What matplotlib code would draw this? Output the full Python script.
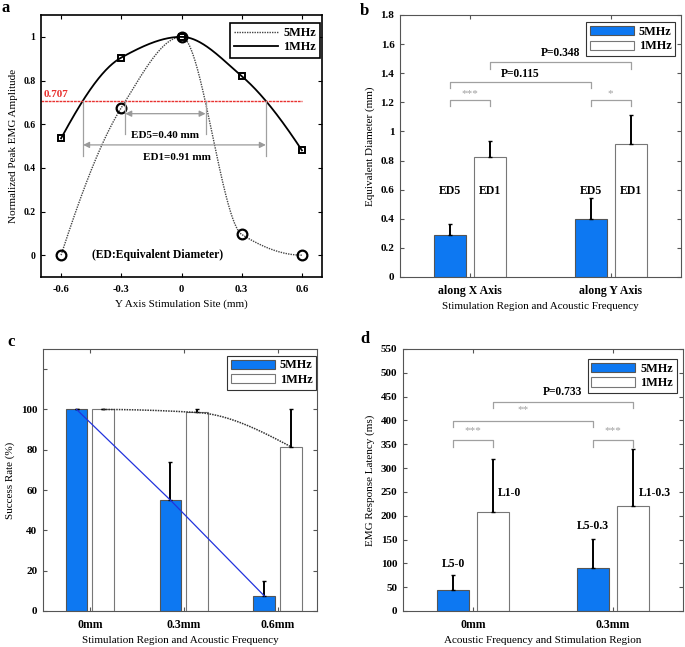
import numpy as np
import matplotlib
matplotlib.use('Agg')
import matplotlib.pyplot as plt
from matplotlib.patches import Patch
from matplotlib.lines import Line2D

plt.rcParams['font.family'] = ['Liberation Serif', 'DejaVu Serif']
plt.rcParams['font.size'] = 8

# ---- data ----
# panel a
sites = [-0.6, -0.3, 0.0, 0.3, 0.6]
amp_5mhz = [0.0, 0.675, 1.0, 0.095, 0.0]
amp_1mhz = [0.535, 0.905, 1.0, 0.82, 0.48]
half_level = 0.707
ed5_span = [-0.28, 0.12]
ed1_span = [-0.49, 0.42]

# panel b
axes_b = ['along X Axis', 'along Y Axis']
ed_5mhz = [0.29, 0.40]
ed_5mhz_err = [0.076, 0.14]
ed_1mhz = [0.823, 0.913]
ed_1mhz_err = [0.112, 0.203]

# panel c
regions_c = ['0mm', '0.3mm', '0.6mm']
rate_5mhz = [100, 55, 7.5]
rate_5mhz_err = [0, 19, 7.5]
rate_1mhz = [100, 98.5, 81.5]
rate_1mhz_err = [0, 1.5, 18.5]

# panel d
regions_d = ['0mm', '0.3mm']
lat_5mhz = [45, 90]
lat_5mhz_err = [31, 62]
lat_1mhz = [208, 220]
lat_1mhz_err = [111, 121]

BLUE = '#0d78f2'
GRAY = '#a0a0a0'
BW = 0.23
OFF = 0.142
LEGFONT = {'weight': 'bold', 'size': 8.8}


def pchip(x, y, xs):
    # shape preserving cubic, used only to draw the smooth connecting line
    x = np.asarray(x, float); y = np.asarray(y, float)
    h = np.diff(x); dl = np.diff(y) / h
    n = len(x); d = np.zeros(n)
    for k in range(1, n - 1):
        if dl[k - 1] * dl[k] > 0:
            w1 = 2 * h[k] + h[k - 1]; w2 = h[k] + 2 * h[k - 1]
            d[k] = (w1 + w2) / (w1 / dl[k - 1] + w2 / dl[k])

    def endd(h0, h1, d0, d1):
        v = ((2 * h0 + h1) * d0 - h0 * d1) / (h0 + h1)
        if np.sign(v) != np.sign(d0):
            v = 0.0
        elif np.sign(d0) != np.sign(d1) and abs(v) > abs(3 * d0):
            v = 3 * d0
        return v
    if n > 2:
        d[0] = endd(h[0], h[1], dl[0], dl[1])
        d[-1] = endd(h[-1], h[-2], dl[-1], dl[-2])
    out = np.empty_like(xs)
    for i, xv in enumerate(xs):
        k = min(max(np.searchsorted(x, xv) - 1, 0), n - 2)
        t = (xv - x[k]) / h[k]
        out[i] = ((2*t**3 - 3*t**2 + 1) * y[k] + (t**3 - 2*t**2 + t) * h[k] * d[k]
                  + (-2*t**3 + 3*t**2) * y[k+1] + (t**3 - t**2) * h[k] * d[k+1])
    return out


def style_axes(ax, color='#555555', lw=0.8, xsize=8.5, ysize=8):
    for s in ax.spines.values():
        s.set_color(color)
        s.set_linewidth(lw)
    ax.tick_params(direction='in', top=True, right=True, length=3, width=0.8,
                   color=color)
    ax.tick_params(axis='x', labelsize=xsize, pad=5.5)
    ax.tick_params(axis='y', labelsize=ysize, pad=4)
    for lab in ax.get_xticklabels() + ax.get_yticklabels():
        lab.set_fontweight('bold')


def bracket(ax, x1, x2, y, drop, text, ty, tcolor=GRAY, bold=False, size=8):
    ax.plot([x1, x1, x2, x2], [y - drop, y, y, y - drop], color=GRAY, lw=0.9)
    ax.text((x1 + x2) / 2, ty, text, ha='center', va='center', color=tcolor,
            fontweight='bold' if bold else 'normal', fontsize=size)


def bar_legend(ax, anchor):
    h = [Patch(facecolor=BLUE, edgecolor='#555555', lw=0.8),
         Patch(facecolor='white', edgecolor='#777777', lw=0.8)]
    leg = ax.legend(h, ['5MHz', '1MHz'], loc='upper right', bbox_to_anchor=anchor,
                    fancybox=False, framealpha=1, edgecolor='#333333',
                    handlelength=3.6, handleheight=0.8, handletextpad=0.4,
                    borderpad=0.3, labelspacing=0.2, borderaxespad=0, prop=LEGFONT)
    leg.get_frame().set_linewidth(0.8)


fig = plt.figure(figsize=(6.85, 6.47), dpi=100)
W, H = 685.0, 647.0


def add_ax(l, t, r, b):
    return fig.add_axes([l / W, 1 - b / H, (r - l) / W, (b - t) / H])


# ---------------- a ----------------
ax = add_ax(41, 15, 322, 277)
xs = np.linspace(-0.6, 0.6, 400)
ax.plot(xs, pchip(sites, amp_5mhz, xs), color='#444444', ls=(0, (1, 0.8)), lw=1.0)
ax.plot(xs, pchip(sites, amp_1mhz, xs), color='black', lw=1.3)
ax.plot(sites, amp_5mhz, 'o', ms=7, mfc='none', mec='black', mew=1.6)
ax.plot(sites, amp_1mhz, 's', ms=5, mfc='none', mec='black', mew=1.4)
ax.plot([-0.7, 0.6], [half_level, half_level], color='#e8312f', lw=1.0, ls=(0, (2, 0.6)))
ax.text(-0.685, 0.715, '0.707', color='#e8312f', fontweight='bold', fontsize=8,
        ha='left', va='bottom')
for xv in ed5_span:
    ax.plot([xv, xv], [0.555, half_level], color=GRAY, lw=0.9)
for xv in ed1_span:
    ax.plot([xv, xv], [0.455, half_level], color=GRAY, lw=0.9)
arrow = dict(arrowstyle='<|-|>', color='#9a9a9a', lw=0.9, shrinkA=0, shrinkB=0,
             mutation_scale=9)
ax.annotate('', xy=(ed5_span[0], 0.648), xytext=(ed5_span[1], 0.648), arrowprops=arrow)
ax.annotate('', xy=(ed1_span[0], 0.505), xytext=(ed1_span[1], 0.505), arrowprops=arrow)
ax.text(sum(ed5_span) / 2, 0.548, 'ED5=0.40 mm', ha='center', va='center',
        fontweight='bold', fontsize=8)
ax.text(sum(ed1_span) / 2 + 0.01, 0.448, 'ED1=0.91 mm', ha='center', va='center',
        fontweight='bold', fontsize=8)
ax.text(-0.12, 0.0, '(ED:Equivalent Diameter)', ha='center', va='center',
        fontweight='bold', fontsize=8.4)
ax.set_xlim(-0.7, 0.7)
ax.set_ylim(-0.1, 1.1)
ax.set_xticks(sites)
ax.set_xticklabels(['-0.6', '-0.3', '0', '0.3', '0.6'])
ax.set_yticks([0, 0.2, 0.4, 0.6, 0.8, 1.0])
ax.set_yticklabels(['0', '0.2', '0.4', '0.6', '0.8', '1'])
ax.set_xlabel('Y Axis Stimulation Site (mm)', fontsize=8, labelpad=4)
ax.set_ylabel('Normalized Peak EMG Amplitude', fontsize=8, labelpad=4)
style_axes(ax, 'black', 1.2, xsize=7.6, ysize=7)
lh = [Line2D([], [], color='#444444', ls=(0, (1, 0.8)), lw=1.0),
      Line2D([], [], color='black', lw=1.3)]
leg = ax.legend(lh, ['5MHz', '1MHz'], loc='upper right', bbox_to_anchor=(0.993, 0.971),
                fancybox=False, framealpha=1, edgecolor='black', handlelength=3.6,
                handletextpad=0.4, borderpad=0.35, labelspacing=0.2, borderaxespad=0,
                prop=LEGFONT)
leg.get_frame().set_linewidth(1.2)
fig.text(2 / W, 1 - 8 / H, 'a', fontweight='bold', fontsize=12, va='center')

# ---------------- b ----------------
ax = add_ax(400, 15, 681, 277)
xb = np.arange(1, len(axes_b) + 1)
ax.bar(xb - OFF, ed_5mhz, BW, color=BLUE, edgecolor='#555555', lw=0.8, zorder=2)
ax.bar(xb + OFF, ed_1mhz, BW, color='white', edgecolor='#777777', lw=0.8, zorder=2)
ax.errorbar(xb - OFF, ed_5mhz, yerr=[np.zeros(2), ed_5mhz_err], fmt='none',
            ecolor='black', elinewidth=1.4, capsize=1.5, capthick=1, zorder=3)
ax.errorbar(xb + OFF, ed_1mhz, yerr=[np.zeros(2), ed_1mhz_err], fmt='none',
            ecolor='black', elinewidth=1.4, capsize=1.5, capthick=1, zorder=3)
for i in range(2):
    ax.text(xb[i] - OFF, 0.59, 'ED5', ha='center', va='center', fontweight='bold', fontsize=8.5)
    ax.text(xb[i] + OFF, 0.59, 'ED1', ha='center', va='center', fontweight='bold', fontsize=8.5)
bracket(ax, 1 - OFF, 1 + OFF, 1.217, 0.045, '***', 1.26)
bracket(ax, 2 - OFF, 2 + OFF, 1.217, 0.045, '*', 1.26)
bracket(ax, 1 - OFF, 2 - OFF, 1.343, 0.045, 'P=0.115', 1.395, 'black', True, 8.3)
bracket(ax, 1 + OFF, 2 + OFF, 1.475, 0.045, 'P=0.348', 1.54, 'black', True, 8.3)
ax.set_xlim(0.5, 2.5)
ax.set_ylim(0, 1.8)
ax.set_xticks(xb)
ax.set_xticklabels(axes_b)
yt = np.round(np.arange(0, 1.81, 0.2), 1)
ax.set_yticks(yt)
ax.set_yticklabels(['%g' % v for v in yt])
ax.set_xlabel('Stimulation Region and Acoustic Frequency', fontsize=8, labelpad=4)
ax.set_ylabel('Equivalent Diameter (mm)', fontsize=8, labelpad=4)
style_axes(ax)
bar_legend(ax, (0.979, 0.972))
fig.text(360 / W, 1 - 11 / H, 'b', fontweight='bold', fontsize=12, va='center')

# ---------------- c ----------------
ax = add_ax(43, 349, 317, 611)
xc = np.arange(1, len(regions_c) + 1)
ax.bar(xc - OFF, rate_5mhz, BW, color=BLUE, edgecolor='#555555', lw=0.8, zorder=2)
ax.bar(xc + OFF, rate_1mhz, BW, color='white', edgecolor='#777777', lw=0.8, zorder=2)
ax.errorbar(xc - OFF, rate_5mhz, yerr=[np.zeros(3), rate_5mhz_err], fmt='none',
            ecolor='black', elinewidth=1.4, capsize=1.5, capthick=1, zorder=3)
ax.errorbar(xc + OFF, rate_1mhz, yerr=[np.zeros(3), rate_1mhz_err], fmt='none',
            ecolor='black', elinewidth=1.4, capsize=1.5, capthick=1, zorder=3)
ax.plot(xc - OFF, rate_5mhz, color='#2233dd', lw=0.9, zorder=4)
xs = np.linspace(xc[0] + OFF, xc[-1] + OFF, 300)
ax.plot(xs, pchip(xc + OFF, rate_1mhz, xs), color='#333333', ls=(0, (1, 0.7)), lw=1.1, zorder=4)
ax.set_xlim(0.5, 3.42)
ax.set_ylim(0, 130)
ax.set_xticks(xc)
ax.set_xticklabels(regions_c)
ax.set_yticks(np.arange(0, 121, 20))
ax.set_yticklabels(['0', '20', '40', '60', '80', '100', ''])
ax.set_xlabel('Stimulation Region and Acoustic Frequency', fontsize=8, labelpad=4)
ax.set_ylabel('Success Rate (%)', fontsize=8, labelpad=4)
style_axes(ax)
bar_legend(ax, (0.997, 0.974))
fig.text(7 / W, 1 - 342 / H, 'c', fontweight='bold', fontsize=12, va='center')

# ---------------- d ----------------
ax = add_ax(403, 349, 683, 611)
xd = np.arange(1, len(regions_d) + 1)
ax.bar(xd - OFF, lat_5mhz, BW, color=BLUE, edgecolor='#555555', lw=0.8, zorder=2)
ax.bar(xd + OFF, lat_1mhz, BW, color='white', edgecolor='#777777', lw=0.8, zorder=2)
ax.errorbar(xd - OFF, lat_5mhz, yerr=[np.zeros(2), lat_5mhz_err], fmt='none',
            ecolor='black', elinewidth=1.4, capsize=1.5, capthick=1, zorder=3)
ax.errorbar(xd + OFF, lat_1mhz, yerr=[np.zeros(2), lat_1mhz_err], fmt='none',
            ecolor='black', elinewidth=1.4, capsize=1.5, capthick=1, zorder=3)
ax.text(1 - OFF, 98, 'L5-0', ha='center', va='center', fontweight='bold', fontsize=8.5)
ax.text(1 + OFF + 0.12, 247, 'L1-0', ha='center', va='center', fontweight='bold', fontsize=8.5)
ax.text(2 - OFF, 179, 'L5-0.3', ha='center', va='center', fontweight='bold', fontsize=8.5)
ax.text(2 + OFF + 0.155, 247, 'L1-0.3', ha='center', va='center', fontweight='bold', fontsize=8.5)
bracket(ax, 1 - OFF, 1 + OFF, 359, 14, '***', 378)
bracket(ax, 2 - OFF, 2 + OFF, 359, 14, '***', 378)
bracket(ax, 1 - OFF, 2 - OFF, 399, 13, '**', 422)
bracket(ax, 1 + OFF, 2 + OFF, 439, 13, 'P=0.733', 459, 'black', True, 8.3)
ax.set_xlim(0.5, 2.5)
ax.set_ylim(0, 550)
ax.set_xticks(xd)
ax.set_xticklabels(regions_d)
ax.set_yticks(np.arange(0, 551, 50))
ax.set_xlabel('Acoustic Frequency and Stimulation Region', fontsize=8, labelpad=4)
ax.set_ylabel('EMG Response Latency (ms)', fontsize=8, labelpad=4)
style_axes(ax)
bar_legend(ax, (0.9775, 0.961))
fig.text(360 / W, 1 - 339 / H, 'd', fontweight='bold', fontsize=12, va='center')

fig.savefig('out.png', dpi=100)
